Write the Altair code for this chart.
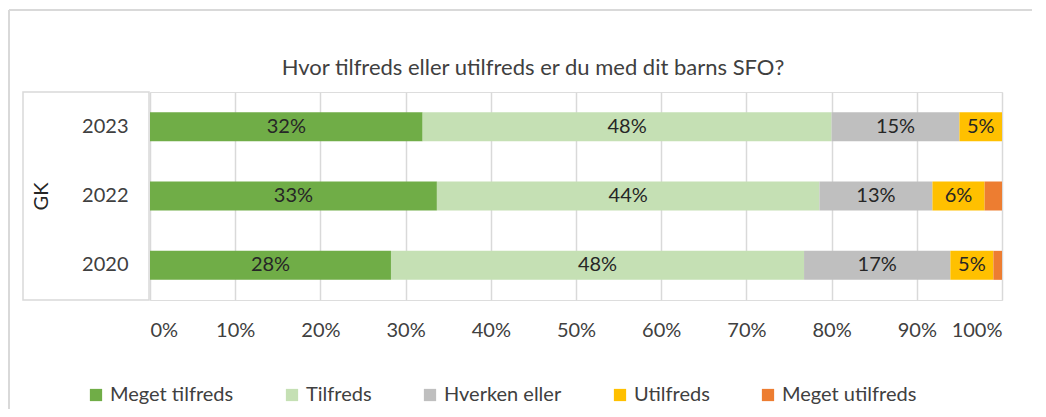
import altair as alt
import pandas as pd

years = ["2023", "2022", "2020"]
categories = ["Meget tilfreds", "Tilfreds", "Hverken eller", "Utilfreds", "Meget utilfreds"]
colors = ["#70AD47", "#C5E0B4", "#BFBFBF", "#FFC000", "#ED7D31"]
meget_tilfreds = [32, 33, 28]
tilfreds = [48, 44, 48]
hverken = [15, 13, 17]
utilfreds = [5, 6, 5]
meget_utilfreds = [0, 2, 1]
title_text = "Hvor tilfreds eller utilfreds er du med dit barns SFO?"
group_label = "GK"

series = [meget_tilfreds, tilfreds, hverken, utilfreds, meget_utilfreds]
rows = []
for ci, (cat, vals) in enumerate(zip(categories, series)):
    for y, v in zip(years, vals):
        rows.append({"year": y, "cat": cat, "order": ci, "value": v})
df = pd.DataFrame(rows)

FONT = "Lato"
FS = 20
W, H = 852, 208
PL, PT = 142, 84

base = alt.Chart(df)

bars = base.mark_bar(size=29).encode(
    x=alt.X("value:Q", stack="normalize",
            scale=alt.Scale(domain=[0, 1], nice=False),
            axis=alt.Axis(format=".0%", values=[i / 10 for i in range(11)],
                          title=None, grid=True, gridColor="#d9d9d9", gridWidth=1.5,
                          domain=False, ticks=False, labelPadding=20,
                          labelFontSize=FS, labelColor="#404040", labelFont=FONT)),
    y=alt.Y("year:N", sort=years,
            scale=alt.Scale(paddingInner=0.58, paddingOuter=0.29),
            axis=alt.Axis(title=group_label, titleAngle=-90, titleFontSize=FS,
                          titleFont=FONT, titleColor="#262626", titleFontWeight="normal",
                          titlePadding=30, labelPadding=22, labelFontSize=FS,
                          labelColor="#404040", labelFont=FONT,
                          domain=False, ticks=False)),
    color=alt.Color("cat:N", sort=categories,
                    scale=alt.Scale(domain=categories, range=colors),
                    legend=alt.Legend(title=None, orient="none", direction="horizontal",
                                      legendX=-64, legendY=293,
                                      symbolType="square", symbolSize=150,
                                      symbolStrokeWidth=0,
                                      labelFontSize=FS, labelFont=FONT,
                                      labelColor="#404040", columnPadding=48,
                                      labelOffset=4)),
    order=alt.Order("order:Q"),
)

labels = base.transform_stack(
    stack="value", groupby=["year"], as_=["v0", "v1"],
    sort=[alt.SortField("order", "ascending")], offset="normalize"
).transform_calculate(
    mid="(datum.v0 + datum.v1) / 2",
    label="datum.value + '%'"
).transform_filter("datum.value >= 3").mark_text(
    fontSize=FS, font=FONT, color="#262626", baseline="middle"
).encode(
    x=alt.X("mid:Q", scale=alt.Scale(domain=[0, 1], nice=False)),
    y=alt.Y("year:N", sort=years),
    text="label:N",
)

one = pd.DataFrame({"k": [0]})
box = alt.Chart(one).mark_rect(
    fill=None, stroke="#d9d9d9", strokeWidth=1.5
).encode(
    x=alt.value(-127), x2=alt.value(-1), y=alt.value(0), y2=alt.value(H)
)
outer_left = alt.Chart(one).mark_rule(
    stroke="#d9d9d9", strokeWidth=2
).encode(x=alt.value(-141), y=alt.value(-82), y2=alt.value(H + 120))
outer_top = alt.Chart(one).mark_rule(
    stroke="#d9d9d9", strokeWidth=2
).encode(x=alt.value(-141), x2=alt.value(W + 60), y=alt.value(-82))
title = alt.Chart(one).mark_text(
    fontSize=22, font=FONT, color="#404040", baseline="middle", align="center"
).encode(x=alt.value(W / 2 - 43), y=alt.value(-24), text=alt.value(title_text))

chart = alt.layer(outer_left, outer_top, box, bars, labels, title).properties(
    width=W, height=H,
    autosize=alt.AutoSizeParams(type="none"),
    padding={"left": PL, "top": PT, "right": 30, "bottom": 109},
).configure_view(stroke=None).configure(background="white")

chart.save("out.html", embed_options={"renderer": "svg", "actions": False})
